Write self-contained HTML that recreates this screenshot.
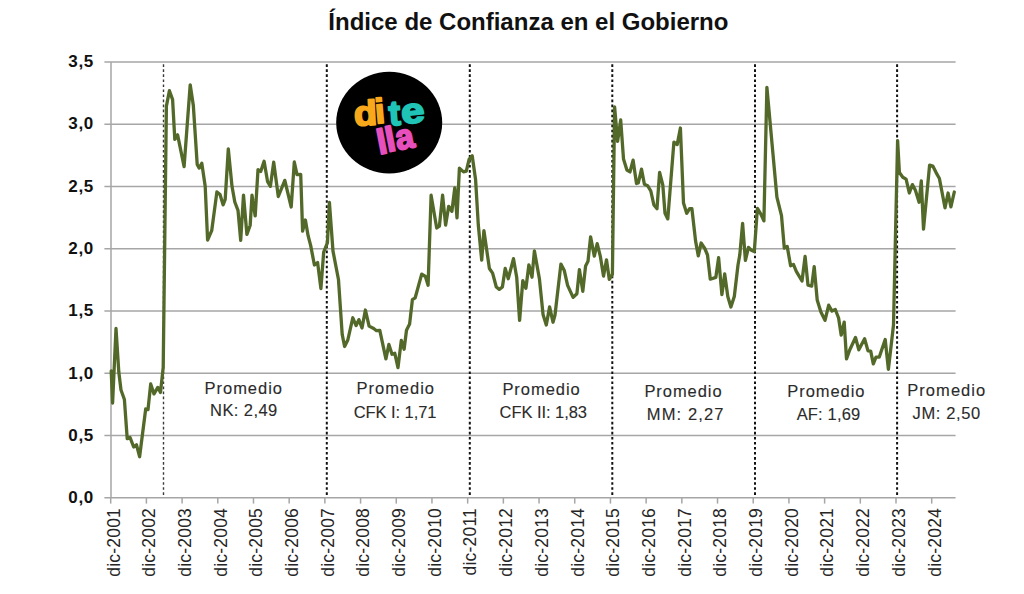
<!DOCTYPE html>
<html><head><meta charset="utf-8">
<style>
html,body{margin:0;padding:0;background:#fff;}
body{width:1024px;height:594px;overflow:hidden;}
svg{display:block;}
text{font-family:"Liberation Sans",sans-serif;}
.yl{font-size:17px;font-weight:bold;text-anchor:end;fill:#111;letter-spacing:0.6px;}
.xl{font-size:17.5px;text-anchor:end;fill:#262626;letter-spacing:0.2px;}
.an{font-size:16.5px;fill:#2b2b2b;stroke:#2b2b2b;stroke-width:0.12px;}
.tt{font-size:24px;font-weight:bold;text-anchor:middle;fill:#111;}
.lg{font-size:35px;font-weight:bold;text-anchor:middle;stroke-width:1.9px;stroke-linejoin:round;}
</style></head>
<body>
<svg width="1024" height="594" viewBox="0 0 1024 594">
<text x="528.4" y="29.8" class="tt">Índice de Confianza en el Gobierno</text>
<line x1="104.4" y1="497.80" x2="955.6" y2="497.80" stroke="#A6A6A6" stroke-width="1.5"/>
<text x="93.8" y="503.10" class="yl">0,0</text>
<line x1="104.4" y1="435.53" x2="955.6" y2="435.53" stroke="#A6A6A6" stroke-width="1.5"/>
<text x="93.8" y="440.83" class="yl">0,5</text>
<line x1="104.4" y1="373.26" x2="955.6" y2="373.26" stroke="#A6A6A6" stroke-width="1.5"/>
<text x="93.8" y="378.56" class="yl">1,0</text>
<line x1="104.4" y1="310.99" x2="955.6" y2="310.99" stroke="#A6A6A6" stroke-width="1.5"/>
<text x="93.8" y="316.29" class="yl">1,5</text>
<line x1="104.4" y1="248.72" x2="955.6" y2="248.72" stroke="#A6A6A6" stroke-width="1.5"/>
<text x="93.8" y="254.02" class="yl">2,0</text>
<line x1="104.4" y1="186.45" x2="955.6" y2="186.45" stroke="#A6A6A6" stroke-width="1.5"/>
<text x="93.8" y="191.75" class="yl">2,5</text>
<line x1="104.4" y1="124.18" x2="955.6" y2="124.18" stroke="#A6A6A6" stroke-width="1.5"/>
<text x="93.8" y="129.48" class="yl">3,0</text>
<line x1="104.4" y1="61.91" x2="955.6" y2="61.91" stroke="#A6A6A6" stroke-width="1.5"/>
<text x="93.8" y="67.21" class="yl">3,5</text>
<line x1="111.0" y1="61.91" x2="111.0" y2="497.8" stroke="#A6A6A6" stroke-width="1.5"/>
<line x1="110.70" y1="497.8" x2="110.70" y2="503.6" stroke="#A6A6A6" stroke-width="1.5"/>
<text transform="translate(119.50,508.0) rotate(-90)" class="xl">dic-2001</text>
<line x1="146.40" y1="497.8" x2="146.40" y2="503.6" stroke="#A6A6A6" stroke-width="1.5"/>
<text transform="translate(155.20,508.0) rotate(-90)" class="xl">dic-2002</text>
<line x1="182.09" y1="497.8" x2="182.09" y2="503.6" stroke="#A6A6A6" stroke-width="1.5"/>
<text transform="translate(190.89,508.0) rotate(-90)" class="xl">dic-2003</text>
<line x1="217.79" y1="497.8" x2="217.79" y2="503.6" stroke="#A6A6A6" stroke-width="1.5"/>
<text transform="translate(226.59,508.0) rotate(-90)" class="xl">dic-2004</text>
<line x1="253.48" y1="497.8" x2="253.48" y2="503.6" stroke="#A6A6A6" stroke-width="1.5"/>
<text transform="translate(262.28,508.0) rotate(-90)" class="xl">dic-2005</text>
<line x1="289.18" y1="497.8" x2="289.18" y2="503.6" stroke="#A6A6A6" stroke-width="1.5"/>
<text transform="translate(297.98,508.0) rotate(-90)" class="xl">dic-2006</text>
<line x1="324.87" y1="497.8" x2="324.87" y2="503.6" stroke="#A6A6A6" stroke-width="1.5"/>
<text transform="translate(333.67,508.0) rotate(-90)" class="xl">dic-2007</text>
<line x1="360.57" y1="497.8" x2="360.57" y2="503.6" stroke="#A6A6A6" stroke-width="1.5"/>
<text transform="translate(369.37,508.0) rotate(-90)" class="xl">dic-2008</text>
<line x1="396.27" y1="497.8" x2="396.27" y2="503.6" stroke="#A6A6A6" stroke-width="1.5"/>
<text transform="translate(405.07,508.0) rotate(-90)" class="xl">dic-2009</text>
<line x1="431.96" y1="497.8" x2="431.96" y2="503.6" stroke="#A6A6A6" stroke-width="1.5"/>
<text transform="translate(440.76,508.0) rotate(-90)" class="xl">dic-2010</text>
<line x1="467.66" y1="497.8" x2="467.66" y2="503.6" stroke="#A6A6A6" stroke-width="1.5"/>
<text transform="translate(476.46,508.0) rotate(-90)" class="xl">dic-2011</text>
<line x1="503.35" y1="497.8" x2="503.35" y2="503.6" stroke="#A6A6A6" stroke-width="1.5"/>
<text transform="translate(512.15,508.0) rotate(-90)" class="xl">dic-2012</text>
<line x1="539.05" y1="497.8" x2="539.05" y2="503.6" stroke="#A6A6A6" stroke-width="1.5"/>
<text transform="translate(547.85,508.0) rotate(-90)" class="xl">dic-2013</text>
<line x1="574.74" y1="497.8" x2="574.74" y2="503.6" stroke="#A6A6A6" stroke-width="1.5"/>
<text transform="translate(583.54,508.0) rotate(-90)" class="xl">dic-2014</text>
<line x1="610.44" y1="497.8" x2="610.44" y2="503.6" stroke="#A6A6A6" stroke-width="1.5"/>
<text transform="translate(619.24,508.0) rotate(-90)" class="xl">dic-2015</text>
<line x1="646.13" y1="497.8" x2="646.13" y2="503.6" stroke="#A6A6A6" stroke-width="1.5"/>
<text transform="translate(654.93,508.0) rotate(-90)" class="xl">dic-2016</text>
<line x1="681.83" y1="497.8" x2="681.83" y2="503.6" stroke="#A6A6A6" stroke-width="1.5"/>
<text transform="translate(690.63,508.0) rotate(-90)" class="xl">dic-2017</text>
<line x1="717.53" y1="497.8" x2="717.53" y2="503.6" stroke="#A6A6A6" stroke-width="1.5"/>
<text transform="translate(726.33,508.0) rotate(-90)" class="xl">dic-2018</text>
<line x1="753.22" y1="497.8" x2="753.22" y2="503.6" stroke="#A6A6A6" stroke-width="1.5"/>
<text transform="translate(762.02,508.0) rotate(-90)" class="xl">dic-2019</text>
<line x1="788.92" y1="497.8" x2="788.92" y2="503.6" stroke="#A6A6A6" stroke-width="1.5"/>
<text transform="translate(797.72,508.0) rotate(-90)" class="xl">dic-2020</text>
<line x1="824.61" y1="497.8" x2="824.61" y2="503.6" stroke="#A6A6A6" stroke-width="1.5"/>
<text transform="translate(833.41,508.0) rotate(-90)" class="xl">dic-2021</text>
<line x1="860.31" y1="497.8" x2="860.31" y2="503.6" stroke="#A6A6A6" stroke-width="1.5"/>
<text transform="translate(869.11,508.0) rotate(-90)" class="xl">dic-2022</text>
<line x1="896.00" y1="497.8" x2="896.00" y2="503.6" stroke="#A6A6A6" stroke-width="1.5"/>
<text transform="translate(904.80,508.0) rotate(-90)" class="xl">dic-2023</text>
<line x1="931.70" y1="497.8" x2="931.70" y2="503.6" stroke="#A6A6A6" stroke-width="1.5"/>
<text transform="translate(940.50,508.0) rotate(-90)" class="xl">dic-2024</text>
<line x1="163.5" y1="64.3" x2="163.5" y2="495" stroke="#3a3a3a" stroke-width="1.4" stroke-dasharray="2.6 2.435"/>
<line x1="326.8" y1="64.3" x2="326.8" y2="495" stroke="#111" stroke-width="2.0" stroke-dasharray="2.6 2.435"/>
<line x1="469.8" y1="64.3" x2="469.8" y2="495" stroke="#111" stroke-width="2.0" stroke-dasharray="2.6 2.435"/>
<line x1="612.3" y1="64.3" x2="612.3" y2="495" stroke="#111" stroke-width="2.0" stroke-dasharray="2.6 2.435"/>
<line x1="755.0" y1="64.3" x2="755.0" y2="495" stroke="#111" stroke-width="2.0" stroke-dasharray="2.6 2.435"/>
<line x1="897.1" y1="64.3" x2="897.1" y2="495" stroke="#111" stroke-width="2.0" stroke-dasharray="2.6 2.435"/>
<path d="M111.2,371.0 L112.6,403.0 L116.0,328.5 L118.8,372.0 L121.0,390.0 L124.4,399.5 L127.2,438.7 L130.0,437.4 L133.7,447.0 L136.5,444.8 L139.6,456.7 L145.7,409.0 L148.0,409.6 L150.7,384.0 L154.0,393.9 L157.8,387.4 L160.5,392.4 L163.2,367.4 L166.4,106.1 L169.4,90.7 L172.6,99.6 L174.8,139.4 L177.6,134.8 L184.1,166.7 L190.2,84.8 L193.3,105.2 L197.2,164.4 L199.1,168.1 L201.8,163.3 L205.2,186.3 L207.6,240.0 L211.7,230.7 L216.9,191.9 L220.0,194.6 L223.1,204.8 L225.2,199.3 L228.3,148.9 L232.0,186.3 L234.8,202.0 L238.0,210.4 L240.7,240.4 L243.5,195.2 L246.9,234.4 L250.2,225.2 L252.0,195.2 L255.2,215.9 L258.0,169.6 L260.7,171.5 L264.1,161.3 L267.6,181.7 L270.4,186.3 L273.7,162.2 L278.3,196.5 L284.8,180.4 L291.2,207.0 L294.3,162.0 L297.0,174.6 L300.7,174.3 L302.6,231.1 L305.4,220.0 L308.1,235.7 L310.7,245.6 L314.4,265.0 L317.6,262.6 L320.9,288.5 L323.7,252.0 L327.4,242.8 L329.4,202.4 L333.0,251.1 L338.5,279.8 L342.2,334.4 L344.6,346.5 L347.8,340.0 L352.8,317.8 L356.1,325.6 L358.9,319.6 L362.0,328.0 L365.4,310.0 L369.1,326.1 L373.7,328.5 L376.5,330.7 L379.8,330.4 L385.9,358.9 L388.9,344.4 L392.0,354.3 L394.8,353.3 L398.0,367.6 L401.3,340.4 L404.1,349.3 L406.5,330.2 L409.6,324.1 L412.4,299.6 L415.2,297.8 L421.7,274.1 L425.4,276.5 L428.1,285.2 L431.1,195.2 L436.7,228.0 L439.4,226.1 L442.6,195.2 L445.6,225.2 L448.7,206.3 L451.9,211.3 L454.8,187.8 L457.0,217.8 L459.4,168.1 L463.5,171.9 L466.3,171.1 L469.1,159.4 L472.2,155.7 L475.6,179.8 L478.3,225.0 L481.7,260.2 L483.9,230.6 L489.4,268.5 L492.6,273.1 L496.3,287.0 L499.3,289.4 L502.4,287.0 L505.2,268.5 L508.3,278.7 L513.5,258.7 L516.7,277.2 L519.6,320.4 L522.8,280.6 L525.9,288.3 L528.9,264.8 L532.0,277.2 L534.4,250.9 L539.4,278.7 L543.1,314.8 L546.3,325.0 L549.6,306.9 L553.0,322.2 L555.0,315.0 L560.9,264.1 L564.3,270.6 L567.6,285.4 L573.1,297.4 L576.9,293.7 L579.4,269.6 L582.8,291.3 L585.6,265.9 L588.0,261.3 L590.6,236.9 L594.3,256.1 L597.2,243.7 L600.4,256.7 L603.5,276.1 L606.5,259.8 L609.3,279.4 L612.4,274.3 L614.6,107.0 L617.6,141.3 L620.7,120.0 L623.5,158.9 L626.9,170.0 L630.0,171.9 L633.1,160.2 L636.5,183.5 L638.3,183.0 L641.5,169.1 L644.4,184.3 L647.6,185.7 L650.8,191.0 L653.9,205.0 L657.0,208.7 L659.6,172.4 L662.8,184.8 L665.0,213.3 L667.8,218.9 L673.9,142.2 L677.2,144.6 L680.4,128.0 L683.5,203.1 L686.7,213.3 L689.6,208.7 L691.9,208.7 L695.6,241.1 L698.3,255.9 L701.1,243.0 L704.8,248.5 L707.5,255.0 L710.3,279.2 L715.8,277.4 L718.6,257.7 L721.9,294.6 L724.7,274.0 L727.8,296.5 L730.9,307.0 L734.3,296.5 L738.0,265.0 L739.8,254.8 L742.6,223.3 L745.4,260.4 L748.5,247.4 L751.3,250.2 L754.3,251.6 L757.4,208.3 L760.7,213.9 L763.9,220.9 L766.9,87.4 L776.9,197.2 L781.5,215.7 L784.3,248.1 L787.2,246.4 L790.6,265.8 L793.5,264.5 L796.3,271.4 L802.0,281.0 L805.1,256.5 L808.0,285.2 L811.7,286.1 L814.2,266.7 L817.2,300.0 L820.9,312.0 L825.0,320.4 L828.7,305.2 L832.0,311.1 L835.3,309.5 L838.6,318.0 L841.2,335.2 L844.2,322.2 L846.5,358.9 L849.7,350.0 L855.5,337.5 L858.8,349.8 L864.6,338.7 L868.0,350.9 L870.7,351.2 L873.3,363.9 L876.0,357.2 L879.2,357.2 L885.2,339.5 L888.4,369.4 L893.5,325.0 L897.6,140.7 L899.4,172.6 L902.8,177.2 L906.1,179.1 L909.3,193.0 L912.4,184.6 L915.4,190.2 L919.1,202.2 L921.3,180.9 L923.5,229.1 L929.6,165.2 L932.8,166.1 L936.1,172.6 L939.4,178.5 L945.0,207.8 L948.1,193.0 L950.9,206.9 L954.3,192.0" fill="none" stroke="#536929" stroke-width="3.3" stroke-linejoin="round" stroke-linecap="round"/>
<text x="204.55" y="393.5" class="an" textLength="77.40" lengthAdjust="spacing">Promedio</text>
<text x="210.10" y="416.3" class="an" textLength="67.15" lengthAdjust="spacing">NK: 2,49</text>
<text x="356.55" y="394.3" class="an" textLength="77.40" lengthAdjust="spacing">Promedio</text>
<text x="353.70" y="417.6" class="an" textLength="82.85" lengthAdjust="spacing">CFK I: 1,71</text>
<text x="502.40" y="394.5" class="an" textLength="77.40" lengthAdjust="spacing">Promedio</text>
<text x="499.60" y="418.0" class="an" textLength="87.35" lengthAdjust="spacing">CFK II: 1,83</text>
<text x="644.40" y="396.6" class="an" textLength="77.25" lengthAdjust="spacing">Promedio</text>
<text x="646.85" y="419.5" class="an" textLength="76.50" lengthAdjust="spacing">MM: 2,27</text>
<text x="787.25" y="396.6" class="an" textLength="77.25" lengthAdjust="spacing">Promedio</text>
<text x="796.65" y="419.5" class="an" textLength="63.60" lengthAdjust="spacing">AF: 1,69</text>
<text x="907.25" y="395.5" class="an" textLength="78.00" lengthAdjust="spacing">Promedio</text>
<text x="912.50" y="418.6" class="an" textLength="67.75" lengthAdjust="spacing">JM: 2,50</text>
<ellipse cx="389.2" cy="122.6" rx="53" ry="50.8" fill="#000"/>
<text x="0" y="0" class="lg" fill="#F7A81B" stroke="#F7A81B" transform="translate(366.0 125.2) rotate(-3) scale(1.08 1.0)">d</text>
<text x="0" y="0" class="lg" fill="#F7A81B" stroke="#F7A81B" transform="translate(380.8 123.2) rotate(-5) scale(1.0 1.0)">i</text>
<text x="0" y="0" class="lg" fill="#1FC4B6" stroke="#1FC4B6" transform="translate(395.2 125.2) rotate(-4) scale(1.0 1.0)">t</text>
<text x="0" y="0" class="lg" fill="#1FC4B6" stroke="#1FC4B6" transform="translate(413.8 122.8) rotate(-6) scale(1.2 1.0)">e</text>
<text x="0" y="0" class="lg" fill="#E64FBC" stroke="#E64FBC" transform="translate(384.0 153.6) rotate(-11) scale(1.0 1.0)">l</text>
<text x="0" y="0" class="lg" fill="#E64FBC" stroke="#E64FBC" transform="translate(392.4 151.0) rotate(-11) scale(1.0 1.0)">l</text>
<text x="0" y="0" class="lg" fill="#E64FBC" stroke="#E64FBC" transform="translate(406.6 148.6) rotate(-11) scale(0.95 1.0)">a</text>
</svg>
</body></html>
